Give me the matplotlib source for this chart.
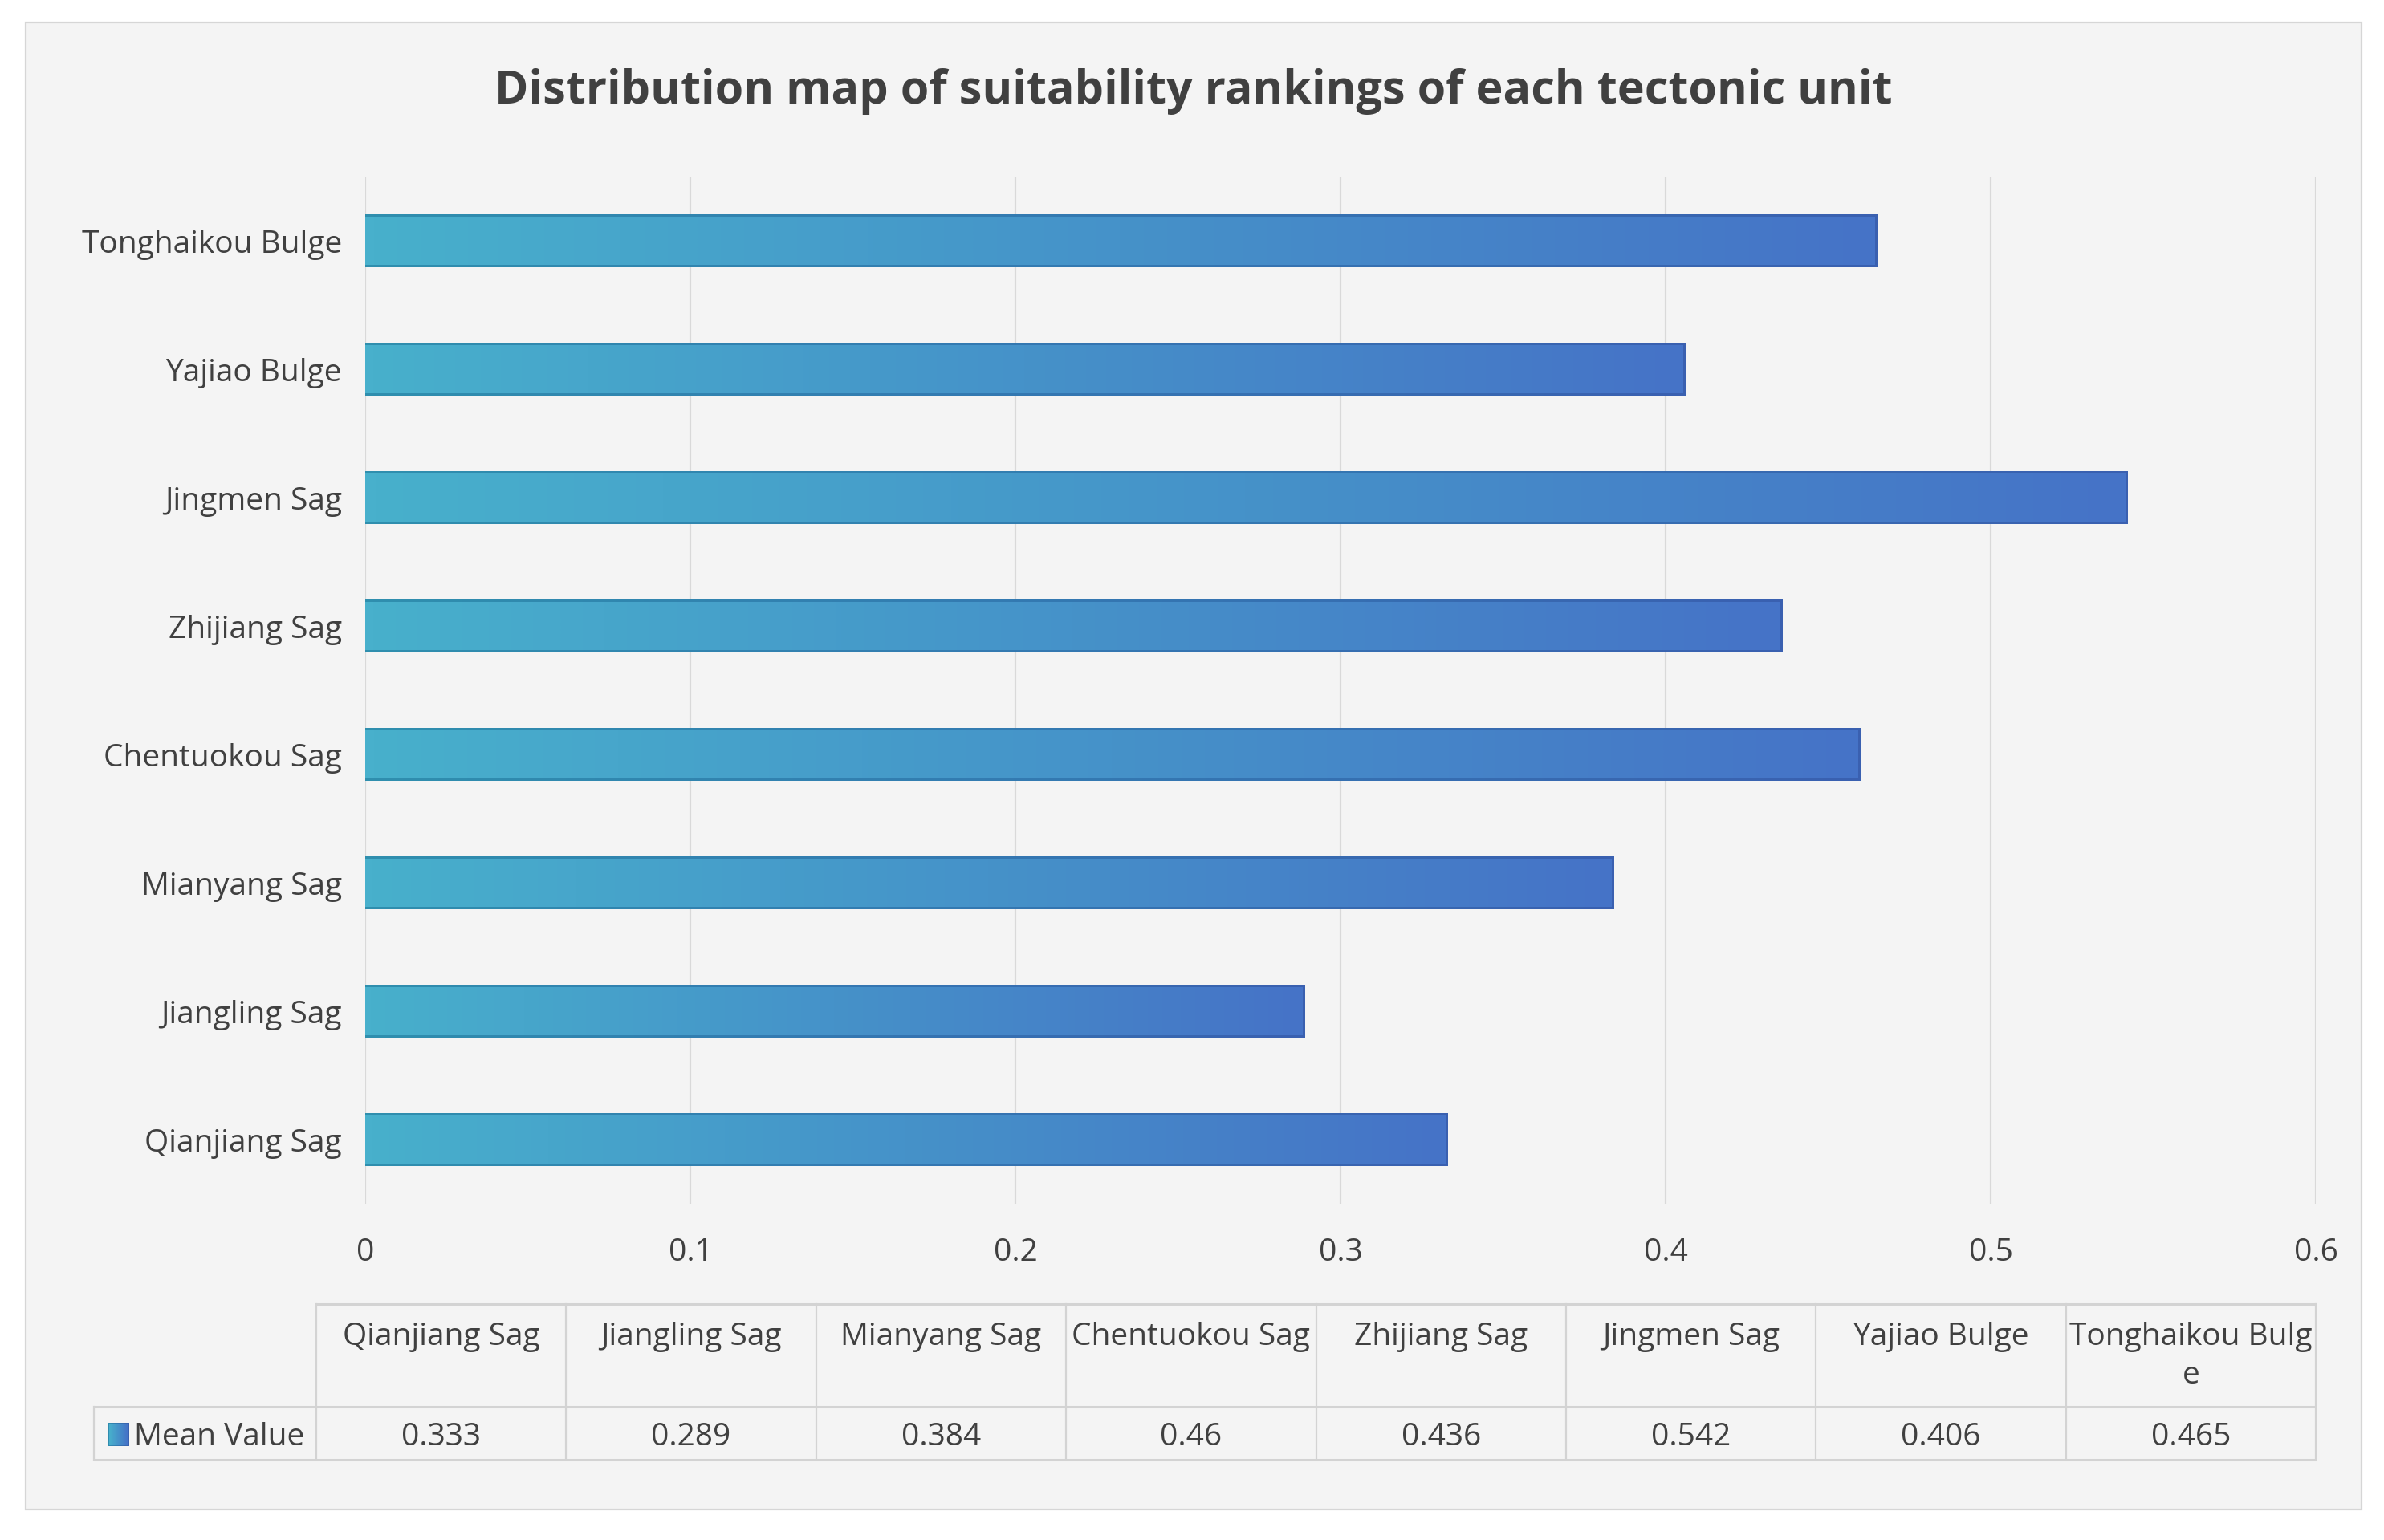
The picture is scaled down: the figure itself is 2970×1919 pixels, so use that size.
import numpy as np
import matplotlib
matplotlib.use("Agg")
import matplotlib.pyplot as plt
from matplotlib.colors import LinearSegmentedColormap
from matplotlib.patches import Rectangle

# ---------------- data ----------------
categories = ["Qianjiang Sag", "Jiangling Sag", "Mianyang Sag", "Chentuokou Sag",
              "Zhijiang Sag", "Jingmen Sag", "Yajiao Bulge", "Tonghaikou Bulge"]
values = [0.333, 0.289, 0.384, 0.46, 0.436, 0.542, 0.406, 0.465]
value_labels = ["0.333", "0.289", "0.384", "0.46", "0.436", "0.542", "0.406", "0.465"]
header_labels = ["Qianjiang Sag", "Jiangling Sag", "Mianyang Sag", "Chentuokou Sag",
                 "Zhijiang Sag", "Jingmen Sag", "Yajiao Bulge", "Tonghaikou Bulg\ne"]
x_ticks = [0, 0.1, 0.2, 0.3, 0.4, 0.5, 0.6]
x_tick_labels = ["0", "0.1", "0.2", "0.3", "0.4", "0.5", "0.6"]
series_name = "Mean Value"
title = "Distribution map of suitability rankings of each tectonic unit"

# ---------------- style ----------------
FONT = ["Open Sans", "DejaVu Sans"]
plt.rcParams["font.family"] = FONT
TXT = "#404040"
BG = "#f4f4f4"
GRID = "#d9d9d9"
fill_cmap = LinearSegmentedColormap.from_list("fill", ["#48b0cc", "#4592c9", "#4573c7"])
edge_cmap = LinearSegmentedColormap.from_list("edge", ["#2f8fae", "#3478b2", "#3a60b0"])

W, H = 2970, 1919
fig = plt.figure(figsize=(W / 100, H / 100), dpi=100)
fig.patch.set_facecolor("white")


def fx(px):
    return px / W


def fy(py):
    return 1 - py / H


# outer chart frame
fig.patches.append(Rectangle((fx(32), fy(1881)), fx(2942) - fx(32), fy(28) - fy(1881),
                             transform=fig.transFigure, facecolor=BG,
                             edgecolor="#d6d6d6", lw=1.6, zorder=-10))

# title
fig.text(fx(1487), fy(114), title, ha="center", va="center", fontsize=41.4,
         fontweight="bold", color=TXT)

# ---------------- bar chart ----------------
ax = fig.add_axes([fx(455), fy(1500), fx(2885) - fx(455), fy(220) - fy(1500)])
ax.set_facecolor("none")
ypos = np.arange(len(categories))
bar_h = 0.41
bars = ax.barh(ypos, values, height=bar_h, color="none", edgecolor="none", zorder=3)

grad = np.linspace(0, 1, 256).reshape(1, -1)
xmax = 0.6
dx = 3 * xmax / 2430.0
dy = 3 * 8 / 1280.0
for b in bars:
    x0, y0, w, h = b.get_x(), b.get_y(), b.get_width(), b.get_height()
    ax.imshow(grad, cmap=edge_cmap, extent=[x0, x0 + w, y0, y0 + h], aspect="auto",
              interpolation="bicubic", zorder=3, origin="lower")
    ax.imshow(grad, cmap=fill_cmap, extent=[x0, x0 + w - dx, y0 + dy, y0 + h - dy],
              aspect="auto", interpolation="bicubic", zorder=4, origin="lower")

ax.set_xlim(0, xmax)
ax.set_ylim(-0.5, len(categories) - 0.5)
ax.set_xticks(x_ticks)
ax.set_xticklabels(x_tick_labels)
ax.set_yticks(ypos)
ax.set_yticklabels(categories)
ax.xaxis.grid(True, color=GRID, lw=1.6, zorder=0)
ax.set_axisbelow(True)
for s in ax.spines.values():
    s.set_visible(False)
ax.tick_params(axis="both", length=0, labelsize=28, labelcolor=TXT)
ax.tick_params(axis="x", pad=30)
ax.tick_params(axis="y", pad=21)

# ---------------- data table ----------------
tax = fig.add_axes([0, 0, 1, 1])
tax.set_xlim(0, W)
tax.set_ylim(H, 0)
tax.axis("off")
tax.patch.set_visible(False)

t_top, t_mid, t_bot = 1625, 1753, 1819
leg_l, col0, t_right = 117, 394, 2885
ncol = len(categories)
cw = (t_right - col0) / ncol
LINE = "#d3d3d3"

tax.plot([col0, t_right], [t_top, t_top], color=LINE, lw=2.2, solid_capstyle="butt")
tax.plot([leg_l, t_right], [t_mid, t_mid], color=LINE, lw=2.2, solid_capstyle="butt")
tax.plot([leg_l, t_right], [t_bot, t_bot], color=LINE, lw=2.2, solid_capstyle="butt")
tax.plot([leg_l, leg_l], [t_mid, t_bot], color=LINE, lw=1.6)
for i in range(ncol + 1):
    xl = col0 + i * cw
    tax.plot([xl, xl], [t_top, t_bot], color=LINE, lw=1.6)

for i, (hl, vl) in enumerate(zip(header_labels, value_labels)):
    cx = col0 + (i + 0.5) * cw
    tax.text(cx, 1647, hl, ha="center", va="top", fontsize=28, color=TXT,
             linespacing=1.33)
    tax.text(cx, 1801, vl, ha="center", va="baseline", fontsize=28, color=TXT)

# legend key in table
tax.imshow(grad, cmap=edge_cmap, extent=[134, 161, 1802, 1773], aspect="auto",
           interpolation="bicubic", zorder=3)
tax.imshow(grad, cmap=fill_cmap, extent=[136, 159, 1800, 1775], aspect="auto",
           interpolation="bicubic", zorder=4)
tax.set_xlim(0, W)
tax.set_ylim(H, 0)
tax.text(167, 1801, series_name, ha="left", va="baseline", fontsize=28, color=TXT)

fig.savefig("out.png", dpi=100, facecolor=fig.get_facecolor())
